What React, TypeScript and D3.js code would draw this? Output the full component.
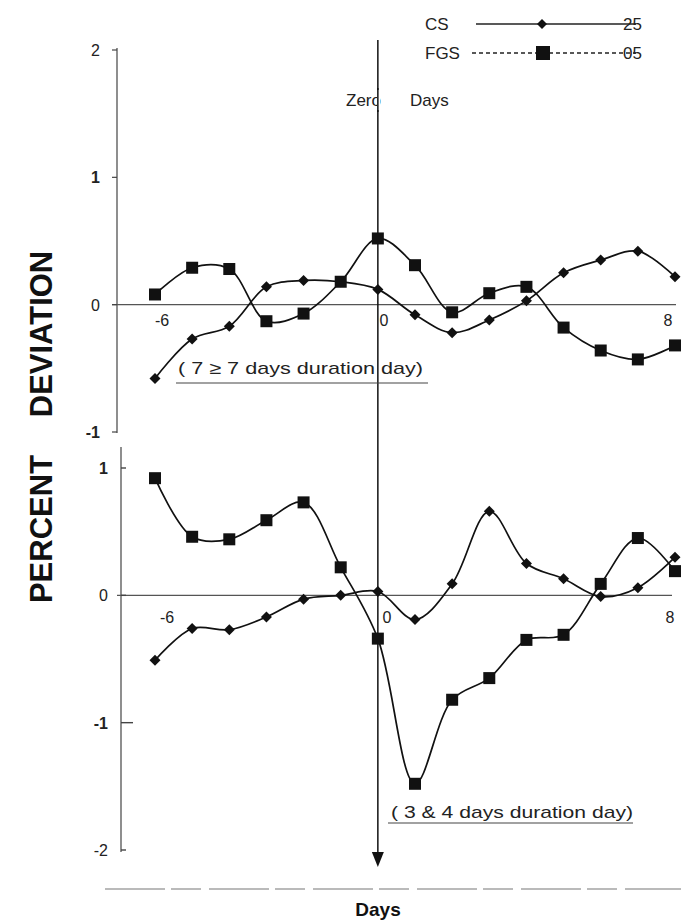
import React from "react";
import * as d3 from "d3";

const days = [-6, -5, -4, -3, -2, -1, 0, 1, 2, 3, 4, 5, 6, 7, 8];
const topCS = [-0.58, -0.27, -0.17, 0.14, 0.19, 0.18, 0.12, -0.08, -0.22, -0.12, 0.03, 0.25, 0.35, 0.42, 0.22];
const topFGS = [0.08, 0.29, 0.28, -0.13, -0.07, 0.18, 0.52, 0.31, -0.06, 0.09, 0.14, -0.18, -0.36, -0.43, -0.32];
const botCS = [-0.51, -0.26, -0.27, -0.17, -0.03, 0.0, 0.03, -0.19, 0.09, 0.66, 0.25, 0.13, -0.01, 0.06, 0.3];
const botFGS = [0.92, 0.46, 0.44, 0.59, 0.73, 0.22, -0.34, -1.48, -0.82, -0.65, -0.35, -0.31, 0.09, 0.45, 0.19];
const topTicks = [2, 1, 0, -1];
const botTicks = [1, 0, -1, -2];
const xTickLabels = [-6, 0, 8];
const legendItems = [
  { name: "CS", code: "25" },
  { name: "FGS", code: "05" },
];

const FONT = "'Liberation Sans', Arial, sans-serif";

export default function App() {
  const x = d3.scaleLinear().domain([-6, 8]).range([155, 675]);
  const yTop = d3.scaleLinear().domain([-1, 2]).range([432, 50]);
  const yBot = d3.scaleLinear().domain([-2, 1]).range([850, 468]);

  const mkLine = (y: d3.ScaleLinear<number, number>) =>
    d3
      .line<number>()
      .x((_, i) => x(days[i]))
      .y((v) => y(v))
      .curve(d3.curveCatmullRom.alpha(0.5));

  const diamond = (cx: number, cy: number, r = 5.5) =>
    `M${cx},${cy - r}L${cx + r},${cy}L${cx},${cy + r}L${cx - r},${cy}Z`;

  const series = (vals: number[], y: any, kind: "d" | "s", key: string) => (
    <g key={key}>
      <path d={mkLine(y)(vals) || ""} fill="none" stroke="#111" strokeWidth={1.7} />
      {vals.map((v, i) =>
        kind === "d" ? (
          <path key={i} d={diamond(x(days[i]), y(v))} fill="#111" />
        ) : (
          <rect key={i} x={x(days[i]) - 6} y={y(v) - 6} width={12} height={12} fill="#111" />
        )
      )}
    </g>
  );

  const x0 = x(0);

  return (
    <svg
      width={681}
      height={920}
      style={{ position: "absolute", left: 0, top: 0, background: "#fff" }}
      fontFamily={FONT}
    >
      <rect width={681} height={920} fill="#fff" />
      {/* legend */}
      {legendItems.map((it, i) => {
        const ly = 24 + i * 29;
        return (
          <g key={it.name}>
            <text x={425} y={ly + 6} fontSize={17} fill="#222">{it.name}</text>
            <line
              x1={i === 0 ? 476 : 472}
              x2={636}
              y1={ly}
              y2={ly}
              stroke="#222"
              strokeWidth={1.4}
              strokeDasharray={i === 0 ? undefined : "4,3"}
            />
            {i === 0 ? (
              <path d={diamond(542, ly, 5)} fill="#111" />
            ) : (
              <rect x={536} y={ly - 7} width={14} height={14} fill="#111" />
            )}
            <text x={623} y={ly + 6} fontSize={17} fill="#222">{it.code}</text>
          </g>
        );
      })}

      {/* top panel axes */}
      <line x1={117} x2={117} y1={48} y2={433} stroke="#444" strokeWidth={1.2} />
      <line x1={112} x2={676} y1={yTop(0)} y2={yTop(0)} stroke="#555" strokeWidth={1.2} />
      {topTicks.map((t) => (
        <g key={"tt" + t}>
          <line x1={112} x2={117} y1={yTop(t)} y2={yTop(t)} stroke="#444" strokeWidth={1.2} />
          <text x={100} y={yTop(t) + 6} fontSize={16} textAnchor="end" fill="#222" fontWeight={t === 1 || t === -1 ? "bold" : "normal"}>
            {t === -1 ? "-1" : String(t)}
          </text>
        </g>
      ))}
      {xTickLabels.map((t) => (
        <text key={"xt" + t} x={x(t) + (t === -6 ? 7 : t === 0 ? 6 : -7)} y={yTop(0) + 21} fontSize={16} textAnchor="middle" fill="#222">
          {String(t)}
        </text>
      ))}

      {/* bottom panel axes */}
      <line x1={121} x2={121} y1={447} y2={852} stroke="#444" strokeWidth={1.2} />
      <line x1={117} x2={672} y1={yBot(0)} y2={yBot(0)} stroke="#555" strokeWidth={1.2} />
      {botTicks.map((t) => (
        <g key={"bt" + t}>
          <line x1={121} x2={t === -1 ? 133 : 126} y1={yBot(t)} y2={yBot(t)} stroke="#444" strokeWidth={1.4} />
          <text x={108} y={yBot(t) + 6} fontSize={16} textAnchor="end" fill="#222" fontWeight={t === 1 || t === -1 ? "bold" : "normal"}>
            {String(t)}
          </text>
        </g>
      ))}
      {xTickLabels.map((t) => (
        <text key={"xb" + t} x={x(t) + (t === -6 ? 12 : t === 0 ? 9 : -5)} y={yBot(0) + 28} fontSize={16} textAnchor="middle" fill="#222">
          {String(t)}
        </text>
      ))}

      {/* zero day vertical with arrow */}
      <line x1={x0} x2={x0} y1={40} y2={856} stroke="#111" strokeWidth={1.5} />
      <path d={`M${x0 - 6},${852}L${x0 + 6},${852}L${x0},${867}Z`} fill="#111" />
      <text x={381} y={106} fontSize={17} textAnchor="end" fill="#222">Zero</text>
      <rect x={377} y={90} width={3} height={20} fill="#fff" />
      <line x1={x0} x2={x0} y1={88} y2={112} stroke="#111" strokeWidth={1.5} />
      <text x={410} y={106} fontSize={17} fill="#222">Days</text>

      {/* series */}
      {series(topCS, yTop, "d", "tcs")}
      {series(topFGS, yTop, "s", "tfgs")}
      {series(botCS, yBot, "d", "bcs")}
      {series(botFGS, yBot, "s", "bfgs")}

      {/* annotations */}
      <text x={178} y={374} fontSize={17} textLength={245} lengthAdjust="spacingAndGlyphs" fill="#222">
        ( 7 ≥  7 days duration day)
      </text>
      <line x1={176} x2={428} y1={383} y2={383} stroke="#444" strokeWidth={1.2} />
      <text x={391} y={818} fontSize={17} textLength={242} lengthAdjust="spacingAndGlyphs" fill="#222">
        ( 3 &amp; 4 days duration day)
      </text>
      <line x1={388} x2={633} y1={823} y2={823} stroke="#444" strokeWidth={1.2} />

      {/* y axis title */}
      <text transform="translate(52,334) rotate(-90)" textAnchor="middle" fontSize={31} fontWeight="bold" fill="#111">
        DEVIATION
      </text>
      <text transform="translate(52,529) rotate(-90)" textAnchor="middle" fontSize={31} fontWeight="bold" fill="#111">
        PERCENT
      </text>

      {/* bottom dashed axis and label */}
      <line x1={105} x2={681} y1={889} y2={889} stroke="#777" strokeWidth={1.2} strokeDasharray="60,6,30,8" />
      <text x={378} y={916} fontSize={19} fontWeight="bold" textAnchor="middle" fill="#111">Days</text>
    </svg>
  );
}
